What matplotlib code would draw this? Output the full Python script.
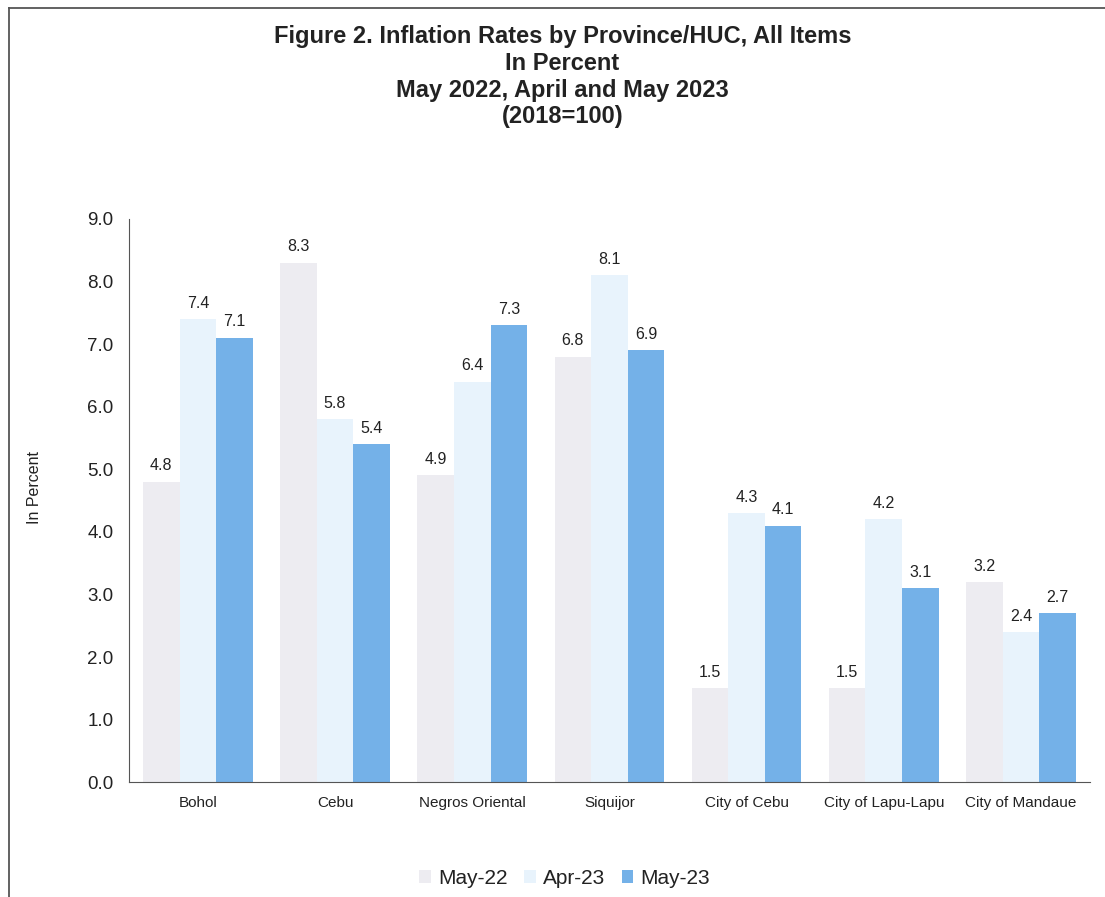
import matplotlib
matplotlib.use("Agg")
import matplotlib.pyplot as plt
from matplotlib.lines import Line2D
import numpy as np

plt.rcParams['font.family'] = ['Liberation Sans', 'DejaVu Sans']

categories = ["Bohol", "Cebu", "Negros Oriental", "Siquijor",
              "City of Cebu", "City of Lapu-Lapu", "City of Mandaue"]
series_names = ["May-22", "Apr-23", "May-23"]
may22 = [4.8, 8.3, 4.9, 6.8, 1.5, 1.5, 3.2]
apr23 = [7.4, 5.8, 6.4, 8.1, 4.3, 4.2, 2.4]
may23 = [7.1, 5.4, 7.3, 6.9, 4.1, 3.1, 2.7]
yticks = [0.0, 1.0, 2.0, 3.0, 4.0, 5.0, 6.0, 7.0, 8.0, 9.0]

colors = ["#EDECF1", "#E8F3FC", "#74B1E8"]
text_color = "#222222"

fig = plt.figure(figsize=(11.05, 8.97), dpi=100)
ax = fig.add_axes([0.117, 0.128, 0.869, 0.628])

x = np.arange(len(categories))
w = 0.8 / 3
for i, (vals, name, c) in enumerate(zip([may22, apr23, may23], series_names, colors)):
    bars = ax.bar(x + (i - 1) * w, vals, width=w, color=c, label=name, edgecolor="none")
    for b, v in zip(bars, vals):
        ax.annotate(f"{v:.1f}", (b.get_x() + b.get_width() / 2, v),
                    xytext=(0, 6), textcoords="offset points",
                    ha="center", va="bottom", fontsize=11.5, color=text_color)

ax.set_xlim(-0.5, len(categories) - 0.5)
ax.set_ylim(0, 9.0)
ax.set_yticks(yticks)
ax.set_yticklabels([f"{t:.1f}" for t in yticks], fontsize=13.5, color=text_color)
ax.set_xticks(x)
ax.set_xticklabels(categories, fontsize=11, color=text_color)
ax.tick_params(axis="y", length=0, pad=11.5)
ax.tick_params(axis="x", length=0, pad=10)
for s in ["top", "right"]:
    ax.spines[s].set_visible(False)
ax.spines["left"].set_color("#555555")
ax.spines["bottom"].set_color("#555555")

fig.text(0.031, 0.456, "In Percent", rotation=90, ha="center", va="center",
         fontsize=11.5, color=text_color)

fig.text(0.509, 0.972,
         "Figure 2. Inflation Rates by Province/HUC, All Items\nIn Percent\nMay 2022, April and May 2023\n(2018=100)",
         ha="center", va="top", fontsize=17, fontweight="bold", color=text_color,
         linespacing=1.21)

leg = fig.legend(loc="center", bbox_to_anchor=(0.511, 0.021), ncol=3, frameon=False,
                 fontsize=15, handlelength=0.55, handleheight=0.55, handletextpad=0.35,
                 columnspacing=0.8)
for t in leg.get_texts():
    t.set_color(text_color)

# outer frame lines (top and left)
fig.add_artist(Line2D([0.008, 1.0], [0.991, 0.991], color="#555555", lw=1.3))
fig.add_artist(Line2D([0.008, 0.008], [0.0, 0.991], color="#555555", lw=1.3))

fig.savefig("out.png", dpi=100)
